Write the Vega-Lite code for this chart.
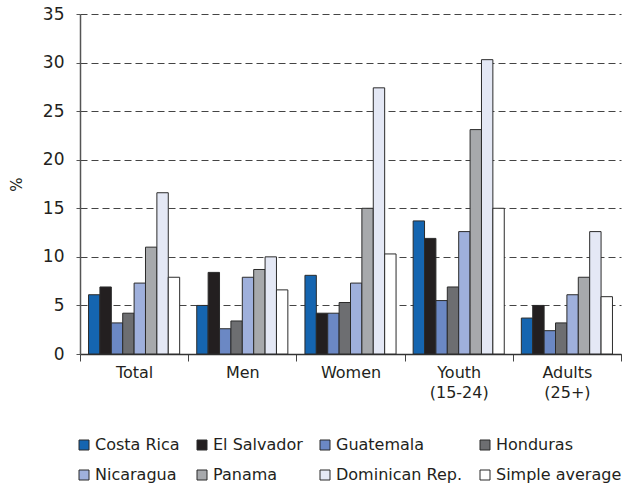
{
  "$schema": "https://vega.github.io/schema/vega-lite/v6.json",
  "autosize": "none",
  "width": 541,
  "height": 340,
  "padding": {"left": 80, "top": 14, "right": 1, "bottom": 137},
  "background": "white",
  "config": {
    "view": {"stroke": null},
    "font": "DejaVu Sans",
    "axis": {"labelColor": "#231f20", "titleColor": "#231f20", "labelFontWeight": "normal", "titleFontWeight": "normal"},
    "legend": {"labelColor": "#231f20"}
  },
  "data": {
    "values": [
      {"group": "Total", "country": "Costa Rica", "value": 6.1},
      {"group": "Total", "country": "El Salvador", "value": 6.9},
      {"group": "Total", "country": "Guatemala", "value": 3.2},
      {"group": "Total", "country": "Honduras", "value": 4.2},
      {"group": "Total", "country": "Nicaragua", "value": 7.3},
      {"group": "Total", "country": "Panama", "value": 11.0},
      {"group": "Total", "country": "Dominican Rep.", "value": 16.6},
      {"group": "Total", "country": "Simple average", "value": 7.9},
      {"group": "Men", "country": "Costa Rica", "value": 5.0},
      {"group": "Men", "country": "El Salvador", "value": 8.4},
      {"group": "Men", "country": "Guatemala", "value": 2.6},
      {"group": "Men", "country": "Honduras", "value": 3.4},
      {"group": "Men", "country": "Nicaragua", "value": 7.9},
      {"group": "Men", "country": "Panama", "value": 8.7},
      {"group": "Men", "country": "Dominican Rep.", "value": 10.0},
      {"group": "Men", "country": "Simple average", "value": 6.6},
      {"group": "Women", "country": "Costa Rica", "value": 8.1},
      {"group": "Women", "country": "El Salvador", "value": 4.2},
      {"group": "Women", "country": "Guatemala", "value": 4.2},
      {"group": "Women", "country": "Honduras", "value": 5.3},
      {"group": "Women", "country": "Nicaragua", "value": 7.3},
      {"group": "Women", "country": "Panama", "value": 15.0},
      {"group": "Women", "country": "Dominican Rep.", "value": 27.4},
      {"group": "Women", "country": "Simple average", "value": 10.3},
      {"group": "Youth (15-24)", "country": "Costa Rica", "value": 13.7},
      {"group": "Youth (15-24)", "country": "El Salvador", "value": 11.9},
      {"group": "Youth (15-24)", "country": "Guatemala", "value": 5.5},
      {"group": "Youth (15-24)", "country": "Honduras", "value": 6.9},
      {"group": "Youth (15-24)", "country": "Nicaragua", "value": 12.6},
      {"group": "Youth (15-24)", "country": "Panama", "value": 23.1},
      {"group": "Youth (15-24)", "country": "Dominican Rep.", "value": 30.3},
      {"group": "Youth (15-24)", "country": "Simple average", "value": 15.0},
      {"group": "Adults (25+)", "country": "Costa Rica", "value": 3.7},
      {"group": "Adults (25+)", "country": "El Salvador", "value": 5.0},
      {"group": "Adults (25+)", "country": "Guatemala", "value": 2.4},
      {"group": "Adults (25+)", "country": "Honduras", "value": 3.2},
      {"group": "Adults (25+)", "country": "Nicaragua", "value": 6.1},
      {"group": "Adults (25+)", "country": "Panama", "value": 7.9},
      {"group": "Adults (25+)", "country": "Dominican Rep.", "value": 12.6},
      {"group": "Adults (25+)", "country": "Simple average", "value": 5.9}
    ]
  },
  "mark": {"type": "bar", "stroke": "#2b2b2b", "strokeWidth": 1},
  "encoding": {
    "x": {
      "field": "group",
      "type": "nominal",
      "sort": ["Total", "Men", "Women", "Youth (15-24)", "Adults (25+)"],
      "scale": {"paddingInner": 0, "paddingOuter": 0},
      "axis": {
        "title": null,
        "labelAngle": 0,
        "labelFontSize": 16,
        "labelPadding": 3,
        "labelLineHeight": 20,
        "labelExpr": "datum.label == 'Youth (15-24)' ? ['Youth', '(15-24)'] : datum.label == 'Adults (25+)' ? ['Adults', '(25+)'] : datum.label",
        "tickBand": "extent",
        "tickSize": 7,
        "tickColor": "#444",
        "domainColor": "#333",
        "domainWidth": 1.5
      }
    },
    "xOffset": {
      "field": "country",
      "type": "nominal",
      "sort": ["Costa Rica", "El Salvador", "Guatemala", "Honduras", "Nicaragua", "Panama", "Dominican Rep.", "Simple average"],
      "scale": {"paddingInner": 0, "paddingOuter": 0.75}
    },
    "y": {
      "field": "value",
      "type": "quantitative",
      "scale": {"domain": [0, 35], "nice": false},
      "axis": {
        "title": "%",
        "titleFontSize": 15,
        "titlePadding": 18,
        "values": [0, 5, 10, 15, 20, 25, 30, 35],
        "labelFontSize": 17,
        "labelPadding": 12,
        "tickSize": 4,
        "tickColor": "#555",
        "domainColor": "#555",
        "domainWidth": 1.5,
        "grid": true,
        "gridColor": "#444",
        "gridDash": [7, 4],
        "gridWidth": 1.2
      }
    },
    "color": {
      "field": "country",
      "type": "nominal",
      "sort": ["Costa Rica", "El Salvador", "Guatemala", "Honduras", "Nicaragua", "Panama", "Dominican Rep.", "Simple average"],
      "scale": {
        "domain": ["Costa Rica", "El Salvador", "Guatemala", "Honduras", "Nicaragua", "Panama", "Dominican Rep.", "Simple average"],
        "range": ["#1565b0", "#231f20", "#6b88c4", "#6d6e71", "#9fb0dc", "#a7a9ac", "#e4e8f5", "#ffffff"]
      },
      "legend": {
        "title": null,
        "orient": "none",
        "legendX": -4,
        "legendY": 423,
        "direction": "horizontal",
        "columns": 4,
        "symbolType": "square",
        "symbolSize": 100,
        "symbolStrokeColor": "#2b2b2b",
        "symbolStrokeWidth": 1,
        "labelFontSize": 16,
        "labelOffset": 3,
        "columnPadding": 14,
        "rowPadding": 14,
        "labelLimit": 300
      }
    }
  }
}
